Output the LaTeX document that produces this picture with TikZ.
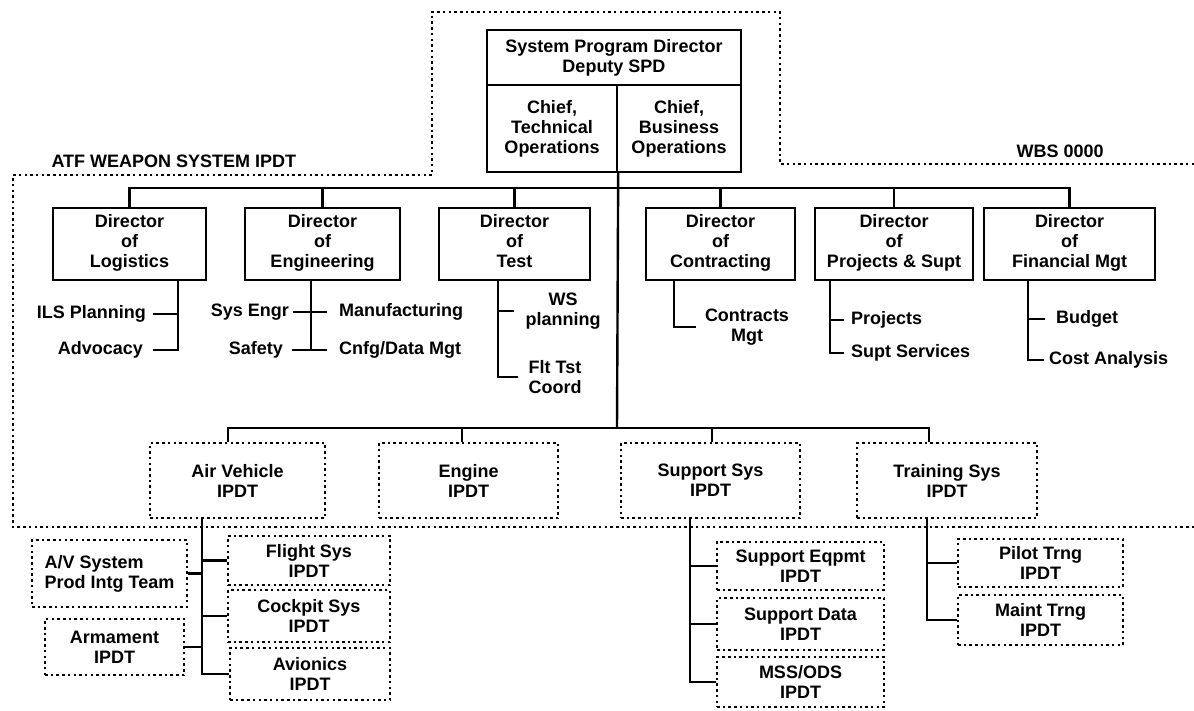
\documentclass[tikz,border=0pt]{standalone}
\usepackage{fontspec}
\setmainfont{Liberation Sans}

\tikzset{
  dirbox/.style={draw, line width=2.4pt, align=center, inner sep=2pt},
  ipdt/.style={draw, line width=2.4pt, dash pattern=on 2.5pt off 3.2pt, align=center, inner sep=1pt},
  frame/.style={line width=2.4pt, dash pattern=on 2.5pt off 3.2pt},
  conn/.style={line width=2.4pt},
  item/.style={inner sep=1pt, align=center},
}

\begin{document}
\begin{tikzpicture}[x=1pt, y=-1pt, font=\fontsize{18}{20}\selectfont\bfseries]
\useasboundingbox (0,0) rectangle (1194,710);

% dotted frame of the weapon system IPDT
\draw[frame] (1194,164) -- (780,164) -- (780,12) -- (432,12) -- (432,175)
  -- (13,175) -- (13,527) -- (1194,527);
\node[anchor=base west] (atf) at (48,167) {ATF WEAPON SYSTEM IPDT};
\node[anchor=base west] (wbs) at (1013,157) {WBS 0000};

% program office
\node[dirbox, minimum width=254pt, minimum height=55pt] (spd) at (614,57.5)
  {System Program Director\\Deputy SPD};
\node[dirbox, minimum width=130pt, minimum height=87pt] (tech) at (552,128.5)
  {Chief,\\Technical\\Operations};
\node[dirbox, minimum width=124pt, minimum height=87pt] (busi) at (679,128.5)
  {Chief,\\Business\\Operations};

% directors
\foreach \nm/\cx/\bw/\txt in {log/129.5/153/Logistics, eng/322.5/155/Engineering,
    tst/514.5/151/Test, con/720.5/149/Contracting, prj/894/158/Projects \& Supt,
    fin/1069.5/171/Financial Mgt}
  \node[dirbox, minimum width=\bw pt, minimum height=72pt] (\nm) at (\cx,244)
    {Director\\of\\\txt\strut};

\coordinate (tbus) at (617,188);
\coordinate (bbus) at (617,428);
\draw[conn] (log.north) |- (tbus) -| (fin.north);
\foreach \nm in {eng,tst,con,prj}
  \draw[conn] (\nm.north) -- (\nm.north |- tbus);
\draw[conn] (tech.south east) -- (bbus);

% logistics
\node[item, anchor=east] (ils) at (147,314) {ILS Planning};
\node[item, anchor=east] (adv) at (144,350) {Advocacy};
\coordinate (lgx) at ([xshift=48.5pt]log.south);
\draw[conn] (lgx) |- ([xshift=9pt]adv.east);
\draw[conn] ([xshift=6pt]ils.east) -- (ils.east -| lgx);

% engineering
\node[item, anchor=east] (sen) at (290,312) {Sys Engr};
\node[item, anchor=west] (mfg) at (338,312) {Manufacturing};
\node[item, anchor=east] (saf) at (284,350) {Safety};
\node[item, anchor=west] (cfg) at (338,350) {Cnfg/Data Mgt};
\coordinate (egx) at ([xshift=-11.5pt]eng.south);
\draw[conn] (egx) -- (egx |- saf);
\draw[conn] ([xshift=3pt]sen.east) -- ([xshift=-11pt]mfg.west);
\draw[conn] ([xshift=8pt]saf.east) -- ([xshift=-11pt]cfg.west);

% test
\node[item] (wsp) at (563,311) {WS\\planning};
\node[item] (ftc) at (555,377) {Flt Tst\\Coord};
\coordinate (tsx) at ([xshift=-16.5pt]tst.south);
\draw[conn] (tsx) |- ([xshift=-9pt]ftc.west);
\draw[conn] (tsx |- wsp) -- ([xshift=-10pt]wsp.west |- wsp);

% contracting
\node[item] (cmg) at (747,327) {Contracts\\Mgt};
\coordinate (cnx) at ([xshift=-46.5pt]con.south);
\draw[conn] (cnx) |- ([xshift=-8pt]cmg.west);

% projects and support
\node[item, anchor=west] (pjs) at (850,320) {Projects};
\node[item, anchor=west] (sps) at (850,353) {Supt Services};
\coordinate (pjx) at ([xshift=-64pt]prj.south);
\draw[conn] (pjx) |- ([xshift=-6pt]sps.west);
\draw[conn] (pjx |- pjs) -- ([xshift=-6pt]pjs.west);

% financial management
\node[item, anchor=west] (bud) at (1055,319) {Budget};
\node[item, anchor=west] (cst) at (1048,360) {Cost Analysis};
\coordinate (fnx) at ([xshift=-41.5pt]fin.south);
\draw[conn] (fnx) |- ([xshift=-4pt]cst.west);
\draw[conn] (fnx |- bud) -- ([xshift=-10pt]bud.west);

% product IPDTs
\foreach \nm/\cx/\bw/\txt in {avh/237.5/175/Air Vehicle, egn/468.5/179/Engine,
    sup/710.5/179/Support Sys, trn/947/180/Training Sys}
  \node[ipdt, minimum width=\bw pt, minimum height=75pt] (\nm) at (\cx,480.5)
    {\txt\\IPDT};
\draw[conn] ([xshift=-9.5pt]avh.north) |- (bbus) -| ([xshift=-18pt]trn.north);
\draw[conn] ([xshift=-6.5pt]egn.north) -- ([xshift=-6.5pt]egn.north |- bbus);
\draw[conn] ([xshift=1.5pt]sup.north) -- ([xshift=1.5pt]sup.north |- bbus);

% air vehicle teams
\node[ipdt, align=left, minimum width=155pt, minimum height=67pt] (ayt) at (109.5,573.5)
  {A/V System\\Prod Intg Team};
\node[ipdt, minimum width=139pt, minimum height=56pt] (arm) at (114.5,647) {Armament\\IPDT};
\node[ipdt, minimum width=162pt, minimum height=49pt] (fls) at (309,560.5) {Flight Sys\\IPDT};
\node[ipdt, minimum width=162pt, minimum height=52pt] (ckp) at (309,616) {Cockpit Sys\\IPDT};
\node[ipdt, minimum width=160pt, minimum height=52pt] (avi) at (310,674) {Avionics\\IPDT};
\coordinate (avx) at ([xshift=-35.5pt]avh.south);
\draw[conn] (avx) |- (avi.west);
\draw[conn] (fls.west) -- (fls.west -| avx);
\draw[conn] (ckp.west) -- (ckp.west -| avx);
\draw[conn] (ayt.east) -- (ayt.east -| avx);
\draw[conn] (arm.east) -- (arm.east -| avx);

% support system teams
\node[ipdt, minimum width=167pt, minimum height=48pt] (seq) at (800.5,566) {Support Eqpmt\\IPDT};
\node[ipdt, minimum width=167pt, minimum height=52pt] (sdt) at (800.5,624) {Support Data\\IPDT};
\node[ipdt, minimum width=167pt, minimum height=50pt] (mss) at (800.5,682) {MSS/ODS\\IPDT};
\coordinate (spx) at ([xshift=-20.5pt]sup.south);
\draw[conn] (spx) |- (mss.west);
\draw[conn] (seq.west) -- (seq.west -| spx);
\draw[conn] (sdt.west) -- (sdt.west -| spx);

% training system teams
\node[ipdt, minimum width=165pt, minimum height=48pt] (plt) at (1040.5,563) {Pilot Trng\\IPDT};
\node[ipdt, minimum width=165pt, minimum height=50pt] (mnt) at (1040.5,620) {Maint Trng\\IPDT};
\coordinate (trx) at ([xshift=-20pt]trn.south);
\draw[conn] (trx) |- (mnt.west);
\draw[conn] (plt.west) -- (plt.west -| trx);
\end{tikzpicture}
\end{document}
